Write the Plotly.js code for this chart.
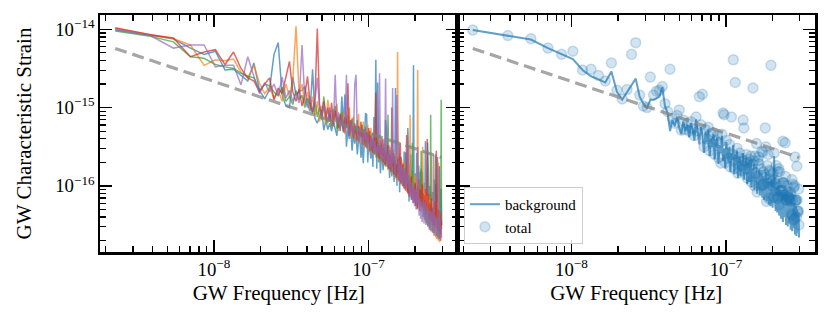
<!DOCTYPE html>
<html><head><meta charset="utf-8">
<script src="https://cdn.plot.ly/plotly-3.0.1.min.js"></script>
<style>html,body{margin:0;padding:0;background:#fff}#chart{width:830px;height:322px}</style>
</head><body><div id="chart"></div>
<script>
// GW frequency bins in nHz
const freqNHz = [2.30,3.88,5.47,7.05,8.64,10.22,11.80,13.39,14.97,16.56,
18.14,19.72,21.31,22.89,24.48,26.06,27.64,29.23,30.81,32.40,
33.98,35.56,37.15,38.73,40.32,41.90,43.48,45.07,46.65,48.24,
49.82,51.40,52.99,54.57,56.16,57.74,59.32,60.91,62.49,64.08,
65.66,67.24,68.83,70.41,72.00,73.58,75.16,76.75,78.33,79.92,
81.50,83.08,84.67,86.25,87.84,89.42,91.00,92.59,94.17,95.76,
97.34,98.92,100.51,102.09,103.68,105.26,106.84,108.43,110.01,111.60,
113.18,114.76,116.35,117.93,119.52,121.10,122.68,124.27,125.85,127.44,
129.02,130.60,132.19,133.77,135.36,136.94,138.52,140.11,141.69,143.28,
144.86,146.44,148.03,149.61,151.20,152.78,154.36,155.95,157.53,159.12,
160.70,162.28,163.87,165.45,167.04,168.62,170.20,171.79,173.37,174.96,
176.54,178.12,179.71,181.29,182.88,184.46,186.04,187.63,189.21,190.80,
192.38,193.96,195.55,197.13,198.72,200.30,201.88,203.47,205.05,206.64,
208.22,209.80,211.39,212.97,214.56,216.14,217.72,219.31,220.89,222.48,
224.06,225.64,227.23,228.81,230.40,231.98,233.56,235.15,236.73,238.32,
239.90,241.48,243.07,244.65,246.24,247.82,249.40,250.99,252.57,254.16,
255.74,257.32,258.91,260.49,262.08,263.66,265.24,266.83,268.41,270.00,
271.58,273.16,274.75,276.33,277.92,279.50,281.08,282.67,284.25,285.84,
287.42,289.00,290.59,292.17,293.76,295.34,296.92];

// log10 of characteristic strain, realization 1 (blue) = "total" in right panel
const log10HcTotal1 = [-14.01,-14.08,-14.12,-14.24,-14.32,-14.28,-14.52,-14.51,-14.59,-14.66,
-14.43,-14.78,-14.89,-14.77,-14.32,-14.17,-14.84,-14.98,-15.00,-14.61,
-14.84,-14.79,-14.78,-14.73,-14.95,-15.05,-14.51,-15.14,-15.20,-15.10,
-15.03,-15.29,-15.16,-15.28,-15.20,-15.30,-15.18,-15.27,-15.36,-15.12,
-15.30,-14.86,-15.22,-14.83,-15.50,-15.28,-15.40,-15.25,-15.55,-15.33,
-15.46,-15.32,-15.60,-15.42,-15.36,-15.64,-15.45,-15.71,-15.34,-15.07,
-15.09,-15.70,-15.42,-15.58,-15.65,-15.47,-15.76,-15.12,-15.60,-14.39,
-15.78,-14.68,-15.70,-15.52,-15.84,-15.64,-15.58,-15.80,-15.66,-15.74,
-15.16,-15.26,-15.68,-15.78,-15.60,-15.90,-15.70,-15.66,-15.88,-15.74,
-15.62,-15.95,-15.72,-14.75,-15.68,-16.00,-15.62,-15.84,-15.46,-16.08,
-15.68,-15.63,-15.72,-15.86,-15.78,-16.00,-15.56,-15.99,-15.57,-15.82,
-15.98,-15.86,-15.26,-15.50,-16.20,-15.74,-15.96,-15.60,-16.16,-15.80,
-15.82,-15.92,-14.46,-15.94,-15.86,-16.00,-15.84,-16.14,-15.58,-15.92,
-15.96,-16.06,-15.74,-15.98,-16.16,-15.82,-16.14,-15.78,-16.24,-15.82,
-16.06,-16.00,-16.12,-16.06,-15.96,-16.06,-15.43,-15.96,-15.96,-16.12,
-16.12,-15.45,-15.88,-16.18,-16.18,-16.10,-16.00,-16.14,-16.08,-16.14,
-16.18,-16.16,-16.16,-16.08,-16.20,-16.12,-16.36,-15.92,-16.38,-16.18,
-15.98,-16.44,-16.02,-16.42,-16.00,-15.63,-16.20,-16.18,-16.18,-16.40,
-15.75,-16.18,-16.32,-16.34,-16.32,-16.04,-16.50];

const log10HcTotal2 = [-13.99,-14.07,-14.12,-14.20,-14.46,-14.39,-14.40,-14.38,-14.55,-14.62,
-14.46,-14.69,-14.82,-14.74,-14.88,-14.78,-14.92,-14.70,-14.86,-14.64,
-13.96,-14.82,-14.70,-14.95,-14.80,-15.02,-14.86,-15.10,-14.92,-15.18,
-14.98,-15.05,-15.22,-14.90,-15.12,-15.26,-15.02,-15.18,-14.95,-15.30,
-15.10,-15.22,-15.05,-15.34,-15.14,-15.28,-15.00,-15.38,-15.20,-15.12,
-15.42,-15.24,-15.32,-15.08,-15.46,-15.28,-15.38,-15.18,-15.52,-15.30,
-15.42,-15.22,-15.56,-15.36,-15.26,-15.60,-15.40,-15.50,-15.30,-15.64,
-15.44,-15.56,-15.34,-15.68,-15.48,-15.38,-15.72,-15.52,-15.62,-15.42,
-15.76,-15.56,-15.46,-15.80,-15.60,-15.70,-15.50,-15.84,-15.64,-15.74,
-15.54,-15.88,-15.68,-15.58,-15.92,-15.70,-14.29,-15.80,-15.62,-15.96,
-15.74,-15.86,-15.66,-16.00,-15.78,-15.70,-16.04,-15.82,-15.92,-15.72,
-16.08,-15.86,-15.96,-15.76,-16.12,-15.90,-15.09,-16.00,-15.80,-16.16,
-15.92,-16.04,-15.84,-16.20,-15.96,-15.88,-16.24,-16.00,-16.10,-15.90,
-14.52,-16.14,-15.94,-16.30,-16.06,-16.18,-15.96,-16.34,-16.08,-16.00,
-15.50,-16.12,-16.24,-16.02,-16.42,-16.16,-16.28,-16.06,-16.46,-16.20,
-16.10,-16.50,-16.22,-16.34,-16.12,-16.54,-16.26,-16.38,-16.16,-16.58,
-15.62,-16.20,-16.60,-16.32,-16.44,-16.22,-16.64,-16.34,-16.48,-16.26,
-16.66,-16.38,-16.30,-16.68,-16.40,-16.52,-16.32,-16.70,-15.70,-16.56,
-16.36,-16.72,-16.46,-16.38,-16.70,-16.50,-16.66];

const log10HcTotal3 = [-14.02,-14.09,-14.16,-14.35,-14.37,-14.45,-14.48,-14.50,-14.56,-14.60,
-14.62,-14.78,-14.70,-14.72,-14.80,-14.85,-14.74,-14.92,-14.86,-14.96,
-14.78,-14.90,-14.84,-15.00,-14.88,-14.96,-15.08,-14.92,-15.12,-15.00,
-15.16,-14.86,-15.10,-15.20,-15.04,-15.24,-15.08,-14.98,-15.28,-15.12,
-15.22,-15.06,-15.32,-15.16,-15.26,-15.10,-15.36,-15.20,-15.14,-15.40,
-15.24,-15.34,-15.16,-15.44,-15.28,-15.38,-15.22,-15.48,-15.32,-15.26,
-15.52,-15.36,-15.46,-15.30,-15.56,-15.40,-15.50,-15.34,-15.60,-15.44,
-15.38,-15.64,-15.48,-15.58,-15.42,-15.68,-15.52,-15.62,-15.46,-15.72,
-15.56,-15.50,-15.76,-15.09,-15.66,-15.54,-15.80,-15.64,-15.74,-15.58,
-15.84,-15.68,-15.62,-15.88,-15.72,-15.82,-15.66,-15.92,-15.76,-15.86,
-15.70,-15.96,-15.80,-15.74,-16.00,-15.84,-15.94,-15.78,-16.04,-15.88,
-15.98,-15.82,-16.08,-15.92,-15.86,-16.12,-15.96,-16.06,-15.90,-16.16,
-15.45,-16.10,-15.94,-16.20,-16.04,-15.98,-16.24,-16.08,-16.18,-16.02,
-16.28,-16.12,-16.22,-16.06,-16.32,-16.16,-16.10,-15.55,-16.20,-16.30,
-16.14,-16.40,-16.24,-16.34,-16.18,-16.44,-16.28,-16.22,-16.48,-16.32,
-16.42,-16.26,-16.52,-16.36,-16.46,-16.30,-16.56,-16.40,-15.09,-16.50,
-16.34,-16.44,-16.28,-16.58,-16.38,-16.48,-16.32,-16.60,-16.42,-16.36,
-15.60,-16.46,-16.54,-16.40,-16.64,-16.48,-16.42,-16.66,-16.50,-16.58,
-16.44,-16.68,-16.52,-16.60,-16.46,-14.90,-16.55];

const log10HcTotal4 = [-13.98,-14.07,-14.11,-14.35,-14.29,-14.26,-14.45,-14.29,-14.50,-14.62,
-14.66,-14.80,-14.70,-14.62,-14.90,-14.75,-14.82,-14.60,-14.41,-14.80,
-14.92,-14.76,-14.98,-14.84,-14.60,-14.94,-15.06,-14.88,-13.99,-14.96,
-15.10,-14.92,-15.14,-15.00,-15.18,-14.94,-15.22,-15.04,-15.16,-15.26,
-15.08,-15.20,-15.30,-15.12,-15.24,-14.69,-15.34,-15.16,-15.28,-15.38,
-15.20,-15.32,-15.42,-15.24,-15.36,-15.18,-15.46,-15.28,-15.40,-15.50,
-15.32,-15.44,-15.26,-15.54,-15.36,-15.48,-15.58,-15.40,-15.52,-14.81,
-15.62,-15.44,-15.56,-15.66,-15.48,-15.60,-15.40,-15.70,-15.52,-15.64,
-15.74,-15.56,-15.68,-15.48,-15.78,-15.60,-15.72,-15.82,-15.00,-15.76,
-15.58,-15.86,-15.68,-15.80,-15.90,-15.72,-15.84,-15.64,-15.94,-15.76,
-15.45,-15.98,-15.80,-15.92,-15.72,-16.02,-15.84,-15.96,-16.06,-15.88,
-15.35,-15.80,-16.10,-15.92,-16.04,-16.14,-15.96,-16.08,-15.88,-16.18,
-16.00,-16.12,-16.22,-16.04,-16.16,-15.96,-16.26,-16.08,-16.20,-16.30,
-16.00,-16.14,-15.92,-16.22,-16.04,-16.16,-16.26,-16.06,-16.20,-15.98,
-16.28,-16.10,-16.22,-16.32,-16.12,-16.26,-16.04,-16.36,-16.16,-16.28,
-15.40,-16.20,-16.32,-16.10,-16.42,-16.22,-16.34,-16.44,-16.24,-16.38,
-16.16,-16.46,-16.28,-16.40,-16.50,-16.30,-16.42,-16.20,-16.52,-16.32,
-16.44,-16.24,-15.55,-16.36,-16.26,-16.56,-16.38,-16.30,-16.58,-16.40,
-16.32,-16.60,-16.42,-16.34,-16.62,-16.44,-16.50];

const log10HcTotal5 = [-14.00,-14.08,-14.24,-14.20,-14.20,-14.48,-14.46,-14.46,-14.71,-14.35,
-14.60,-14.82,-14.68,-14.80,-14.70,-14.85,-14.61,-14.88,-14.78,-14.92,
-14.82,-14.94,-14.20,-14.90,-15.00,-14.86,-15.04,-14.92,-14.62,-15.00,
-15.12,-14.96,-15.08,-15.18,-15.00,-15.14,-15.24,-14.58,-15.20,-15.06,
-15.28,-15.12,-15.22,-15.32,-14.58,-15.26,-15.36,-15.18,-15.30,-15.40,
-14.70,-14.58,-15.34,-15.44,-15.26,-15.38,-15.48,-15.30,-15.42,-15.24,
-15.52,-15.34,-15.46,-15.56,-15.38,-15.50,-15.32,-15.60,-15.42,-15.54,
-15.64,-15.46,-15.58,-14.56,-15.62,-15.50,-15.68,-15.54,-15.40,-15.70,
-14.63,-15.58,-15.74,-15.62,-15.48,-15.78,-15.66,-15.56,-15.82,-14.75,
-15.70,-15.60,-15.86,-15.74,-15.64,-14.84,-15.78,-15.90,-15.68,-15.82,
-15.94,-15.72,-15.86,-15.98,-15.76,-15.90,-16.02,-15.80,-15.94,-16.06,
-15.84,-15.98,-15.50,-15.88,-16.02,-16.14,-15.92,-16.06,-16.18,-15.96,
-16.10,-16.22,-16.00,-16.14,-16.26,-16.04,-16.18,-16.30,-16.08,-16.22,
-15.50,-16.12,-16.26,-16.38,-16.16,-16.30,-16.42,-16.20,-16.34,-16.46,
-16.24,-16.38,-16.18,-16.48,-16.28,-16.40,-16.22,-16.50,-16.32,-16.44,
-16.26,-16.52,-16.36,-16.46,-16.30,-16.56,-16.38,-16.48,-16.32,-16.58,
-16.40,-16.50,-16.34,-16.60,-16.42,-15.60,-16.36,-16.62,-16.44,-16.54,
-16.38,-16.64,-16.46,-16.56,-16.40,-16.66,-16.48,-16.58,-16.42,-16.68,
-15.75,-16.60,-16.44,-16.70,-16.52,-16.62,-16.66];

// background (realization 1) in right panel
const log10HcBackground = [-14.01,-14.08,-14.13,-14.24,-14.32,-14.38,-14.52,-14.60,-14.64,-14.68,
-14.54,-14.80,-14.90,-14.80,-14.72,-14.63,-14.86,-14.95,-15.01,-14.90,
-14.90,-14.88,-14.86,-14.74,-14.98,-15.07,-15.30,-15.16,-15.24,-15.12,
-15.26,-15.34,-15.18,-15.30,-15.22,-15.38,-15.20,-15.29,-15.42,-15.15,
-15.33,-15.47,-15.25,-15.36,-15.58,-15.31,-15.44,-15.28,-15.62,-15.40,
-15.50,-15.34,-15.66,-15.45,-15.38,-15.72,-15.48,-15.58,-15.36,-15.68,
-15.52,-15.78,-15.44,-15.62,-15.70,-15.50,-15.82,-15.58,-15.66,-15.48,
-15.85,-15.60,-15.74,-15.55,-15.90,-15.68,-15.62,-15.88,-15.70,-15.80,
-15.58,-15.92,-15.72,-15.84,-15.64,-15.98,-15.76,-15.70,-15.95,-15.80,
-15.66,-16.02,-15.78,-15.88,-15.72,-16.05,-15.84,-15.94,-15.76,-16.10,
-15.86,-15.98,-15.80,-16.12,-15.90,-16.04,-15.84,-16.15,-15.95,-15.88,
-16.18,-15.96,-16.06,-15.82,-16.20,-15.98,-16.10,-15.90,-16.24,-16.02,
-15.94,-16.26,-16.04,-16.14,-15.92,-16.28,-16.00,-16.16,-15.62,-16.22,
-16.06,-16.32,-16.10,-16.02,-16.34,-16.12,-16.22,-16.00,-16.38,-16.14,
-16.26,-16.06,-16.42,-16.18,-16.30,-16.08,-16.46,-16.20,-16.12,-16.40,
-16.22,-16.34,-16.10,-16.50,-16.24,-16.36,-16.14,-16.52,-16.26,-16.18,
-16.48,-16.28,-16.40,-16.16,-16.56,-16.30,-16.42,-16.20,-16.58,-16.32,
-16.24,-16.54,-16.34,-16.46,-16.22,-16.62,-16.36,-16.48,-16.26,-16.64,
-16.38,-16.30,-16.60,-16.40,-16.52,-16.34,-16.66];

// reference power law (dashed) at the two ends of the band
const powerLawFreqNHz = [2.30, 296.92];
const powerLawHc = [5.7e-15, 2.3e-16];

const realizationColors = ['rgba(31,119,180,0.7)','rgba(255,127,14,0.7)','rgba(44,160,44,0.7)','rgba(214,39,40,0.7)','rgba(148,103,189,0.7)'];

const f = freqNHz.map(v => v * 1e-9);
const pf = powerLawFreqNHz.map(v => v * 1e-9);
const lin = a => a.map(v => Math.pow(10, v));
const realizations = [log10HcTotal1, log10HcTotal2, log10HcTotal3, log10HcTotal4, log10HcTotal5];

const traces = [];
realizations.forEach((r, i) => {
  traces.push({x: f, y: lin(r), type: 'scatter', mode: 'lines', xaxis: 'x', yaxis: 'y',
    line: {color: realizationColors[i], width: 1.5}, showlegend: false, hoverinfo: 'skip'});
});
traces.push({x: pf, y: powerLawHc, type: 'scatter', mode: 'lines', xaxis: 'x', yaxis: 'y',
  line: {color: 'rgba(128,128,128,0.7)', width: 3.2, dash: '12px,6px'}, showlegend: false});
traces.push({x: f, y: lin(log10HcBackground), type: 'scatter', mode: 'lines', xaxis: 'x2', yaxis: 'y2',
  name: 'background', line: {color: 'rgba(31,119,180,0.7)', width: 2}});
traces.push({x: f, y: lin(log10HcTotal1), type: 'scatter', mode: 'markers', xaxis: 'x2', yaxis: 'y2',
  name: 'total', marker: {size: 10, color: 'rgba(31,119,180,0.2)', line: {color: 'rgba(31,119,180,0.22)', width: 1.5}}});
traces.push({x: pf, y: powerLawHc, type: 'scatter', mode: 'lines', xaxis: 'x2', yaxis: 'y2',
  line: {color: 'rgba(128,128,128,0.7)', width: 3.2, dash: '12px,6px'}, showlegend: false});

const FONT = 'Liberation Serif, Times New Roman, serif';
function axis(extra) {
  return Object.assign({
    type: 'log', showline: true, linecolor: 'black', linewidth: 2.5, mirror: 'allticks',
    ticks: 'inside', ticklen: 12, tickwidth: 1.5, tickcolor: 'black',
    dtick: 1, exponentformat: 'power', showgrid: false, zeroline: false,
    minor: {ticks: 'inside', ticklen: 6, tickwidth: 1.2, tickcolor: 'black', dtick: 'D1', showgrid: false},
    tickfont: {family: FONT, size: 15, color: 'black'}
  }, extra);
}
const xr = [-8.737, -6.424], yr = [-16.845, -13.817];
const layout = {
  width: 830, height: 322,
  margin: {l: 100, r: 15, t: 15, b: 70},
  paper_bgcolor: 'white', plot_bgcolor: 'white',
  font: {family: FONT, color: 'black'},
  xaxis: axis({domain: [0, 0.5], range: xr, anchor: 'y',
    title: {text: 'GW Frequency [Hz]', font: {family: FONT, size: 21, color: 'black'}, standoff: 6}}),
  xaxis2: axis({domain: [0.5, 1], range: xr, anchor: 'y2',
    title: {text: 'GW Frequency [Hz]', font: {family: FONT, size: 21, color: 'black'}, standoff: 6}}),
  yaxis: axis({domain: [0, 1], range: yr, anchor: 'x',
    title: {text: 'GW Characteristic Strain', font: {family: FONT, size: 21, color: 'black'}, standoff: 18}}),
  yaxis2: axis({domain: [0, 1], range: yr, anchor: 'x2', matches: 'y', showticklabels: false}),
  legend: {x: 0.509, xanchor: 'left', y: 0.034, yanchor: 'bottom',
    bgcolor: 'rgba(255,255,255,0.8)', bordercolor: '#cccccc', borderwidth: 1,
    font: {family: FONT, size: 15, color: 'black'}},
  showlegend: true
};
Plotly.newPlot('chart', traces, layout, {staticPlot: true, displayModeBar: false});
</script>
</body></html>
